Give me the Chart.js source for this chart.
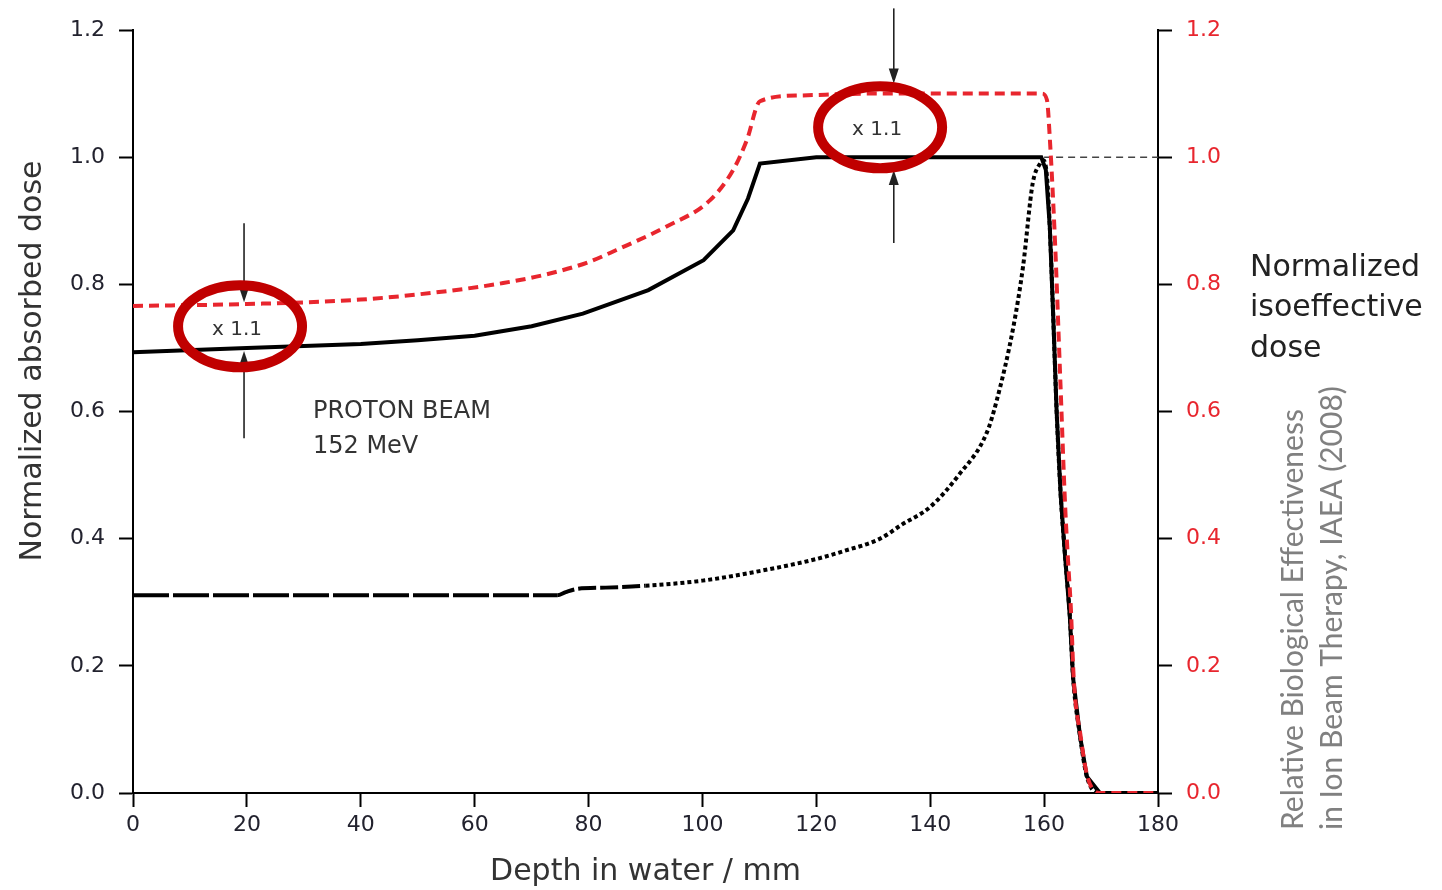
<!DOCTYPE html>
<html lang="en">
<head>
<meta charset="UTF-8">
<title>Proton beam - absorbed and isoeffective dose</title>
<style>
  html, body { margin: 0; padding: 0; background: #fff; }
  #wrap { width: 1442px; height: 890px; }
</style>
</head>
<body>
<div id="wrap"><canvas id="doseChart" width="1442" height="890"></canvas></div>
<script src="https://cdn.jsdelivr.net/npm/chart.js"></script>
<script>
// values: depth in water (mm) vs normalized dose
const sobpDepth = [0, 20, 30, 40, 50, 60, 70, 79, 90.5, 100.2, 105.4, 108, 110.1, 120, 159.5, 160.3, 161, 161.6, 162.2, 162.9, 163.7, 164.5, 165.1, 166.3, 167.5, 169.8, 180];
const sobpDose  = [0.693, 0.700, 0.703, 0.706, 0.712, 0.719, 0.734, 0.754, 0.791, 0.838, 0.885, 0.935, 0.99, 1.0, 1.0, 0.98, 0.89, 0.75, 0.6, 0.47, 0.37, 0.28, 0.18, 0.09, 0.026, 0, 0];

const isoDepth = [0, 20, 40, 55.7, 65, 73.2, 80, 84.9, 93.7, 101.3, 105.4, 107.8, 110.1, 117, 130, 159.6, 160.5, 161, 161.9, 162.8, 163.7, 164.2, 164.7, 165.2, 166.4, 167.6, 169.8, 180];
const isoDose  = [0.766, 0.769, 0.776, 0.790, 0.802, 0.817, 0.835, 0.854, 0.891, 0.932, 0.98, 1.027, 1.088, 1.097, 1.1, 1.1, 1.09, 1.03, 0.87, 0.66, 0.45, 0.366, 0.29, 0.18, 0.09, 0.026, 0, 0];

const braggDepth = [0, 74.5, 76, 78, 83, 90, 100, 110, 120, 125, 131.2, 135, 140, 145, 149.9, 151.7, 154.6, 156.3, 158, 159.3, 159.9, 160.5, 161, 161.6, 162.2, 162.9, 163.7, 164.5, 165.1, 166.3, 167.5, 169.8, 180];
const braggDose  = [0.311, 0.311, 0.316, 0.321, 0.323, 0.326, 0.334, 0.349, 0.368, 0.381, 0.400, 0.422, 0.450, 0.500, 0.566, 0.618, 0.733, 0.828, 0.959, 0.99, 0.995, 0.97, 0.89, 0.75, 0.6, 0.47, 0.37, 0.28, 0.18, 0.09, 0.026, 0, 0];

const refDepth = [160, 180];
const refDose  = [1.0, 1.0];

const depthTicks = [0, 20, 40, 60, 80, 100, 120, 140, 160, 180];
const doseTicks  = [0, 0.2, 0.4, 0.6, 0.8, 1.0, 1.2];

// the "x 1.1" markers: arrows (depth, from, to) and circled labels
const arrowMarks = [
  { depth: 19.5, from: 0.896, to: 0.772 },
  { depth: 19.5, from: 0.558, to: 0.695 },
  { depth: 133.6, from: 1.234, to: 1.116 },
  { depth: 133.6, from: 0.865, to: 0.98 }
];
const factorMarks = [
  { depth: 18.8, dose: 0.734, label: 'x 1.1' },
  { depth: 131.2, dose: 1.047, label: 'x 1.1' }
];

const RED = '#e8262e';
const FONT = '"DejaVu Sans", sans-serif';

function toPoints(xs, ys) {
  return xs.map((x, i) => ({ x: x, y: ys[i] }));
}

const annotations = {
  id: 'annotations',
  afterDatasetsDraw(chart) {
    const { ctx, scales } = chart;
    const px = v => scales.x.getPixelForValue(v);
    const py = v => scales.y.getPixelForValue(v);
    ctx.save();

    // arrows
    ctx.strokeStyle = '#222';
    ctx.fillStyle = '#222';
    ctx.lineWidth = 1.6;
    arrowMarks.forEach(a => {
      const xp = px(a.depth), y0 = py(a.from), y1 = py(a.to);
      const dir = Math.sign(y1 - y0);
      ctx.beginPath();
      ctx.moveTo(xp, y0);
      ctx.lineTo(xp, y1 - dir * 6);
      ctx.stroke();
      ctx.beginPath();
      ctx.moveTo(xp, y1);
      ctx.lineTo(xp - 5, y1 - dir * 15);
      ctx.lineTo(xp + 5, y1 - dir * 15);
      ctx.closePath();
      ctx.fill();
    });

    // red rings + labels
    factorMarks.forEach(m => {
      const cx = px(m.depth), cy = py(m.dose);
      ctx.beginPath();
      ctx.ellipse(cx, cy, 62, 41, 0, 0, Math.PI * 2);
      ctx.strokeStyle = '#c00000';
      ctx.lineWidth = 10;
      ctx.stroke();
      ctx.fillStyle = '#333';
      ctx.font = '20px ' + FONT;
      ctx.textAlign = 'center';
      ctx.textBaseline = 'middle';
      ctx.fillText(m.label, cx - 3, cy + 3);
    });

    // beam label
    ctx.fillStyle = '#333';
    ctx.font = '24px ' + FONT;
    ctx.textAlign = 'left';
    ctx.textBaseline = 'middle';
    ctx.fillText('PROTON BEAM', px(31.6), py(0.599));
    ctx.fillText('152 MeV', px(31.6), py(0.544));

    // left axis title
    ctx.save();
    ctx.translate(33, 361);
    ctx.rotate(-Math.PI / 2);
    ctx.textAlign = 'center';
    ctx.font = '30px ' + FONT;
    ctx.fillStyle = '#333';
    ctx.fillText('Normalized absorbed dose', 0, 0);
    ctx.restore();

    // right axis title
    const rx = chart.chartArea.right + 92;
    ctx.font = '30px ' + FONT;
    ctx.fillStyle = '#222';
    ctx.fillText('Normalized', rx, 268);
    ctx.fillText('isoeffective', rx, 308);
    ctx.fillText('dose', rx, 349);

    // source note
    ctx.save();
    ctx.translate(rx + 43, 830);
    ctx.rotate(-Math.PI / 2);
    ctx.font = '30px Lato, "Open Sans", sans-serif';
    ctx.fillStyle = '#808080';
    ctx.textAlign = 'left';
    ctx.fillText('Relative Biological Effectiveness', 0, 0);
    ctx.fillText('in Ion Beam Therapy, IAEA (2008)', 0, 39);
    ctx.restore();

    ctx.restore();
  }
};

const ctx = document.getElementById('doseChart').getContext('2d');
new Chart(ctx, {
  type: 'line',
  data: {
    datasets: [
      {
        label: 'Isoeffective dose',
        data: toPoints(isoDepth, isoDose),
        borderColor: RED,
        borderWidth: 4,
        borderDash: [10, 6],
        borderCapStyle: 'butt',
        cubicInterpolationMode: 'monotone',
        pointRadius: 0
      },
      {
        label: 'Absorbed dose (SOBP)',
        data: toPoints(sobpDepth, sobpDose),
        borderColor: '#000',
        borderWidth: 4,
        tension: 0,
        pointRadius: 0
      },
      {
        label: 'Pristine Bragg peak',
        data: toPoints(braggDepth, braggDose),
        borderColor: '#000',
        borderWidth: 4,
        borderCapStyle: 'butt',
        cubicInterpolationMode: 'monotone',
        pointRadius: 0,
        segment: {
          borderDash: c => c.p0.parsed.x < 74.4 ? [36, 4] : (c.p0.parsed.x < 89 ? [18, 4] : [4, 3])
        }
      },
      {
        label: 'Reference',
        data: toPoints(refDepth, refDose),
        borderColor: '#444',
        borderWidth: 1.5,
        borderDash: [7, 5],
        pointRadius: 0
      }
    ]
  },
  options: {
    responsive: false,
    animation: false,
    layout: { padding: { top: 30, right: 0, bottom: 0, left: 0 } },
    plugins: { legend: { display: false }, tooltip: { enabled: false } },
    scales: {
      x: {
        type: 'linear',
        min: 0,
        max: 180,
        afterFit: s => { s.height = 97; },
        afterBuildTicks: s => { s.ticks = depthTicks.map(v => ({ value: v })); },
        ticks: { color: '#22222e', font: { family: FONT, size: 22 }, padding: 5 },
        grid: { drawOnChartArea: false, color: '#000', tickLength: 14, tickWidth: 2 },
        border: { color: '#000', width: 2 },
        title: { display: true, text: 'Depth in water / mm', color: '#333', font: { family: FONT, size: 30 }, padding: { top: 0, bottom: 0 } }
      },
      y: {
        position: 'left',
        min: 0,
        max: 1.2,
        afterFit: s => { s.width = 133; },
        afterBuildTicks: s => { s.ticks = doseTicks.map(v => ({ value: v })); },
        ticks: { color: '#22222e', font: { family: FONT, size: 22 }, padding: 14, callback: v => v.toFixed(1) },
        grid: { drawOnChartArea: false, color: '#000', tickLength: 14, tickWidth: 2 },
        border: { color: '#000', width: 2 }
      },
      y2: {
        position: 'right',
        display: true,
        min: 0,
        max: 1.2,
        afterFit: s => { s.width = 284; },
        afterBuildTicks: s => { s.ticks = doseTicks.map(v => ({ value: v })); },
        ticks: { color: RED, font: { family: FONT, size: 22 }, padding: 14, callback: v => v.toFixed(1) },
        grid: { drawOnChartArea: false, color: '#000', tickLength: 14, tickWidth: 2 },
        border: { color: '#000', width: 2 }
      }
    }
  },
  plugins: [annotations]
});
</script>
</body>
</html>
